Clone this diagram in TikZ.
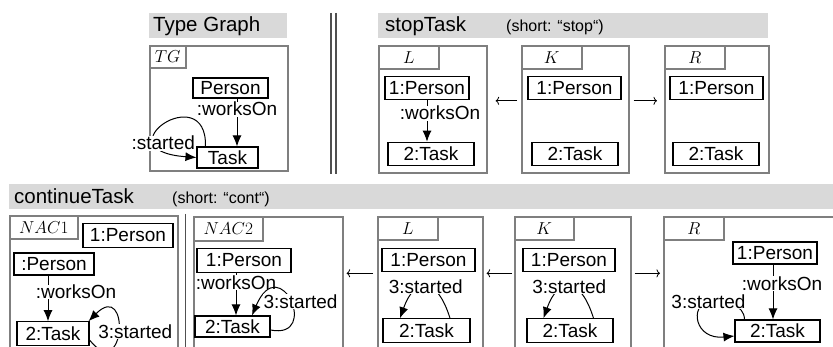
\documentclass[tikz,border=0pt]{standalone}
\usepackage[no-math]{fontspec}
\setmainfont{Liberation Sans}
\usetikzlibrary{arrows.meta,calc}
\definecolor{Frame}{HTML}{7F7F7F}
\definecolor{Bar}{HTML}{D9D9D9}
\definecolor{Rule}{HTML}{505050}
\newcommand\objfont{\fontsize{19}{21}\selectfont}
\newcommand\headfont{\fontsize{20.5}{23}\selectfont}
\newcommand\notefont{\fontsize{16}{18}\selectfont}
\newcommand\tabfont{\fontsize{18}{20}\selectfont}

\begin{document}
\begin{tikzpicture}[x=1pt,y=-1pt,
    obj/.style={draw,line width=1.1pt,fill=white,font=\objfont,inner sep=0pt,minimum height=23.5pt},
    lbl/.style={font=\objfont,fill=white,inner sep=0.5pt},
    link/.style={line width=1pt,-{Latex[length=11pt,width=9pt]}},
    morph/.style={line width=0.8pt,-{To[length=3.5pt,width=8pt]}},
    frm/.style={draw=Frame,line width=1.6pt,anchor=north west,inner sep=0pt},
    tabbox/.style={draw=Frame,line width=1.6pt,fill=white,anchor=north west,font=\tabfont,inner sep=0pt},
    bar/.style={fill=Bar,anchor=north west,inner sep=0pt},
    title/.style={font=\headfont,anchor=base west,inner sep=0pt},
    note/.style={font=\notefont,anchor=base west,inner sep=0pt}]
  \useasboundingbox (0,0) rectangle (833,347);

  % header bars and titles
  \node[bar,minimum width=138pt,minimum height=25pt] (tg-bar) at (149,13) {};
  \node[bar,minimum width=390pt,minimum height=25pt] (st-bar) at (378,13) {};
  \node[bar,minimum width=830pt,minimum height=25pt] (ct-bar) at (9,184) {};
  \node[title] (tg-title) at (153,32) {Type Graph};
  \node[title] (st-title) at (385,32) {stopTask};
  \node[note] (st-note) at (506,32) {(short: “stop“)};
  \node[title] (ct-title) at (14,204) {continueTask};
  \node[note] (ct-note) at (172,204) {(short: “cont“)};

  % separators
  \draw[Rule,line width=1.3pt] (331,13) -- (331,174) (336,13) -- (336,174);
  \draw[Rule,line width=1pt] (185,214) -- (185,350);

  % graph frames with their tabs
  \foreach \n/\x/\y/\w/\h/\tw/\th/\lab in {
      tg/149/45/138/125/36/22/TG, sl/378/45/108/127/60/23/L,
      sk/521/45/107/127/60/23/K, sr/664/45/104/127/60/23/R,
      n1/9/215/168/135/68/23/NAC1, n2/193/216/149/134/69/24/NAC2,
      cl/377/216/105/134/60/23/L, ck/514/216/116/134/59/23/K,
      cr/663/216/172/134/60/23/R} {
    \node[frm,minimum width=\w,minimum height=\h] (\n) at (\x,\y) {};
    \node[tabbox,minimum width=\tw,minimum height=\th] (\n-tab) at (\x,\y) {$\lab$};
  }

  % objects
  \node[obj,minimum width=75pt,minimum height=20pt] (tg-per) at (230.5,88) {Person};
  \node[obj,minimum width=61pt,minimum height=21pt] (tg-task) at (227.5,157.5) {Task};
  \node[obj,minimum width=84pt] (sl-per) at (427,88) {1:Person};
  \node[obj,minimum width=86pt] (sl-task) at (431,154) {2:Task};
  \node[obj,minimum width=93pt] (sk-per) at (574.5,88) {1:Person};
  \node[obj,minimum width=86pt] (sk-task) at (575,154) {2:Task};
  \node[obj,minimum width=93pt] (sr-per) at (716.5,88) {1:Person};
  \node[obj,minimum width=86pt] (sr-task) at (716,154) {2:Task};
  \node[obj,minimum width=90pt] (n1-per1) at (128,235.5) {1:Person};
  \node[obj,minimum width=80pt,minimum height=22pt] (n1-per) at (54,264) {:Person};
  \node[obj,minimum width=72pt] (n1-task) at (53,333.5) {2:Task};
  \node[obj,minimum width=94pt] (n2-per) at (244,260.5) {1:Person};
  \node[obj,minimum width=75pt,minimum height=21pt] (n2-task) at (232.5,326.5) {2:Task};
  \node[obj,minimum width=93pt] (cl-per) at (428.5,260) {1:Person};
  \node[obj,minimum width=87pt] (cl-task) at (426.5,330.5) {2:Task};
  \node[obj,minimum width=92pt] (ck-per) at (569,260) {1:Person};
  \node[obj,minimum width=86pt] (ck-task) at (570,330.5) {2:Task};
  \node[obj,minimum width=84pt,minimum height=22pt] (cr-per) at (775,253) {1:Person};
  \node[obj,minimum width=85pt,minimum height=22pt] (cr-task) at (777.5,331) {2:Task};

  % worksOn edges
  \draw[link] ([xshift=6.5pt]tg-per.south) -- ([xshift=6.5pt]tg-per.south |- tg-task.north) node[lbl,pos=0.22] {:worksOn};
  \draw[link] (sl-per.south) -- (sl-per.south |- sl-task.north) node[lbl,pos=0.31,xshift=13pt] {:worksOn};
  \draw[link] ([xshift=-6pt]n1-per.south) -- ([xshift=-6pt]n1-per.south |- n1-task.north) node[lbl,pos=0.36,xshift=28pt] {:worksOn};
  \draw[link] ([xshift=-8pt]n2-per.south) -- ([xshift=-8pt]n2-per.south |- n2-task.north) node[lbl,pos=0.23] {:worksOn};
  \draw[link] ([xshift=-2pt]cr-per.south) -- ([xshift=-2pt]cr-per.south |- cr-task.north) node[lbl,pos=0.34,xshift=9pt] {:worksOn};

  % started loops
  \draw[link] ($(tg-task.north west)+(9,0)$) .. controls +(2,-69) and +(-97,-7) .. node[lbl,pos=0.75,xshift=6pt] {:started} (tg-task.west);
  \draw[link] ($(n1-task.east)+(0,6.5)$) .. controls +(36,45) and +(42,-42) .. node[lbl,pos=0.5,xshift=17pt] {3:started} ($(n1-task.north east)+(-1,0)$);
  \draw[link] ($(n2-task.east)+(0,3.5)$) .. controls +(50,10) and +(28,-66) .. node[lbl,pos=0.5,xshift=10pt] {3:started} ($(n2-task.north)+(19.5,0)$);
  \foreach \t in {cl,ck}
    \draw[link] ($(\t-task.north)+(23.5,0)$) .. controls +(-13,-42) and +(15,-42) .. node[lbl] {3:started} ($(\t-task.north)+(-26.5,0)$);
  \draw[link] ($(cr-task.north west)+(10,0)$) .. controls +(0,-15) and +(16,-2) .. ($(cr-task.north west)+(-26,-18)$) node[lbl] {3:started}
    .. controls +(-19,4) and +(-40,4) .. ($(cr-task.west)+(0,5)$);

  % rule morphisms
  \draw[morph,shorten <=4pt,shorten >=8pt] ([yshift=8.5pt]sk.west) -- ([yshift=8.5pt]sl.east);
  \draw[morph,shorten <=4pt,shorten >=7pt] ([yshift=8.5pt]sk.east) -- ([yshift=8.5pt]sr.west);
  \draw[morph,shorten <=4pt,shorten >=3pt] ([yshift=10.5pt]cl.west) -- ([yshift=10.5pt]n2.east);
  \draw[morph,shorten <=2pt,shorten >=3pt] ([yshift=10.5pt]ck.west) -- ([yshift=10.5pt]cl.east);
  \draw[morph,shorten <=3pt,shorten >=3pt] ([yshift=10.5pt]ck.east) -- ([yshift=10.5pt]cr.west);
\end{tikzpicture}
\end{document}
